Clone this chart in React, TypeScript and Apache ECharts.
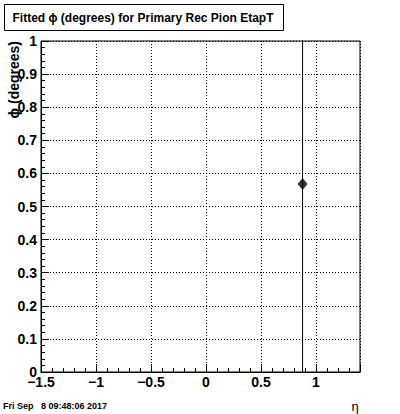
import React, { useEffect, useRef } from "react";
import * as echarts from "echarts";

const titleText = "Fitted \u03d5 (degrees) for Primary Rec Pion EtapT";
const yAxisTitle = "\u03d5 (degrees)";
const xAxisTitle = "\u03b7";
const dateText = "Fri Sep \u00a0 8 09:48:06 2017";

const xRange = [-1.5, 1.4];
const yRange = [0, 1];
const etaValues = [0.878];
const phiValues = [0.568];
const phiErrors = [1.2];

const fmt = (v: number) => {
  const s = Number(v.toFixed(2)).toString();
  return s.startsWith("-") ? "\u2212" + s.slice(1) : s;
};

export default function App() {
  const ref = useRef<HTMLDivElement>(null);
  useEffect(() => {
    if (!ref.current) return;
    const chart = echarts.init(ref.current, null, { renderer: "svg" });
    const font = "Liberation Sans, Arial, sans-serif";
    const points = etaValues.map((x, i) => [x, phiValues[i]]);
    const errSeries = etaValues.map((x, i) => ({
      type: "line",
      data: [
        [x, phiValues[i] - phiErrors[i]],
        [x, phiValues[i] + phiErrors[i]],
      ],
      symbol: "none",
      clip: true,
      lineStyle: { color: "#000", width: 1 },
      silent: true,
    }));
    chart.setOption({
      animation: false,
      backgroundColor: "#fff",
      grid: {
        left: 41,
        right: 40,
        top: 41,
        bottom: 42,
        show: true,
        borderColor: "#000",
        borderWidth: 1,
        backgroundColor: "transparent",
      },
      xAxis: {
        type: "value",
        min: xRange[0],
        max: xRange[1],
        interval: 0.5,
        axisLine: { show: true, onZero: false, lineStyle: { color: "#000", width: 1 } },
        axisTick: { show: true, inside: true, length: 8, lineStyle: { color: "#000" } },
        minorTick: { show: true, splitNumber: 5, length: 4, lineStyle: { color: "#000" } },
        splitLine: { show: true, lineStyle: { color: "#000", type: [1, 2], width: 1 } },
        axisLabel: {
          color: "#000",
          fontFamily: font,
          fontWeight: "bold",
          fontSize: 14,
          margin: 3,
          showMaxLabel: false,
          formatter: (v: number) => fmt(v),
        },
      },
      yAxis: {
        type: "value",
        min: yRange[0],
        max: yRange[1],
        interval: 0.1,
        axisLine: { show: true, onZero: false, lineStyle: { color: "#000", width: 1 } },
        axisTick: { show: true, inside: true, length: 8, lineStyle: { color: "#000" } },
        minorTick: { show: true, splitNumber: 5, length: 4, lineStyle: { color: "#000" } },
        splitLine: { show: true, lineStyle: { color: "#000", type: [1, 2], width: 1 } },
        axisLabel: {
          color: "#000",
          fontFamily: font,
          fontWeight: "bold",
          fontSize: 14,
          margin: 4,
          formatter: (v: number) => fmt(v),
        },
      },
      series: [
        ...errSeries,
        {
          type: "scatter",
          data: points,
          symbol: "diamond",
          symbolSize: [10, 12],
          itemStyle: { color: "#000" },
          clip: true,
        },
      ],
      graphic: [
        {
          type: "rect",
          shape: { x: 4.5, y: 4.5, width: 279, height: 26 },
          style: { fill: "#fff", stroke: "#000", lineWidth: 1 },
        },
        {
          type: "text",
          x: 143,
          y: 18,
          style: {
            text: titleText,
            fontFamily: font,
            fontWeight: "bold",
            fontSize: 12,
            fill: "#000",
            textAlign: "center",
            textVerticalAlign: "middle",
          },
        },
        {
          type: "text",
          x: 14,
          y: 41,
          rotation: Math.PI / 2,
          style: {
            text: yAxisTitle,
            fontFamily: font,
            fontWeight: "bold",
            fontSize: 14,
            fill: "#000",
            textAlign: "right",
            textVerticalAlign: "middle",
          },
        },
        {
          type: "text",
          x: 355,
          y: 406,
          style: {
            text: xAxisTitle,
            fontFamily: font,
            fontSize: 13,
            fill: "#000",
            textAlign: "center",
            textVerticalAlign: "middle",
          },
        },
        {
          type: "text",
          x: 3,
          y: 406,
          style: {
            text: dateText,
            fontFamily: font,
            fontWeight: "bold",
            fontSize: 9,
            fill: "#000",
            textAlign: "left",
            textVerticalAlign: "middle",
          },
        },
      ],
    });
    return () => chart.dispose();
  }, []);
  return (
    <div
      ref={ref}
      style={{ position: "fixed", left: 0, top: 0, width: 400, height: 414, background: "#fff" }}
    />
  );
}
